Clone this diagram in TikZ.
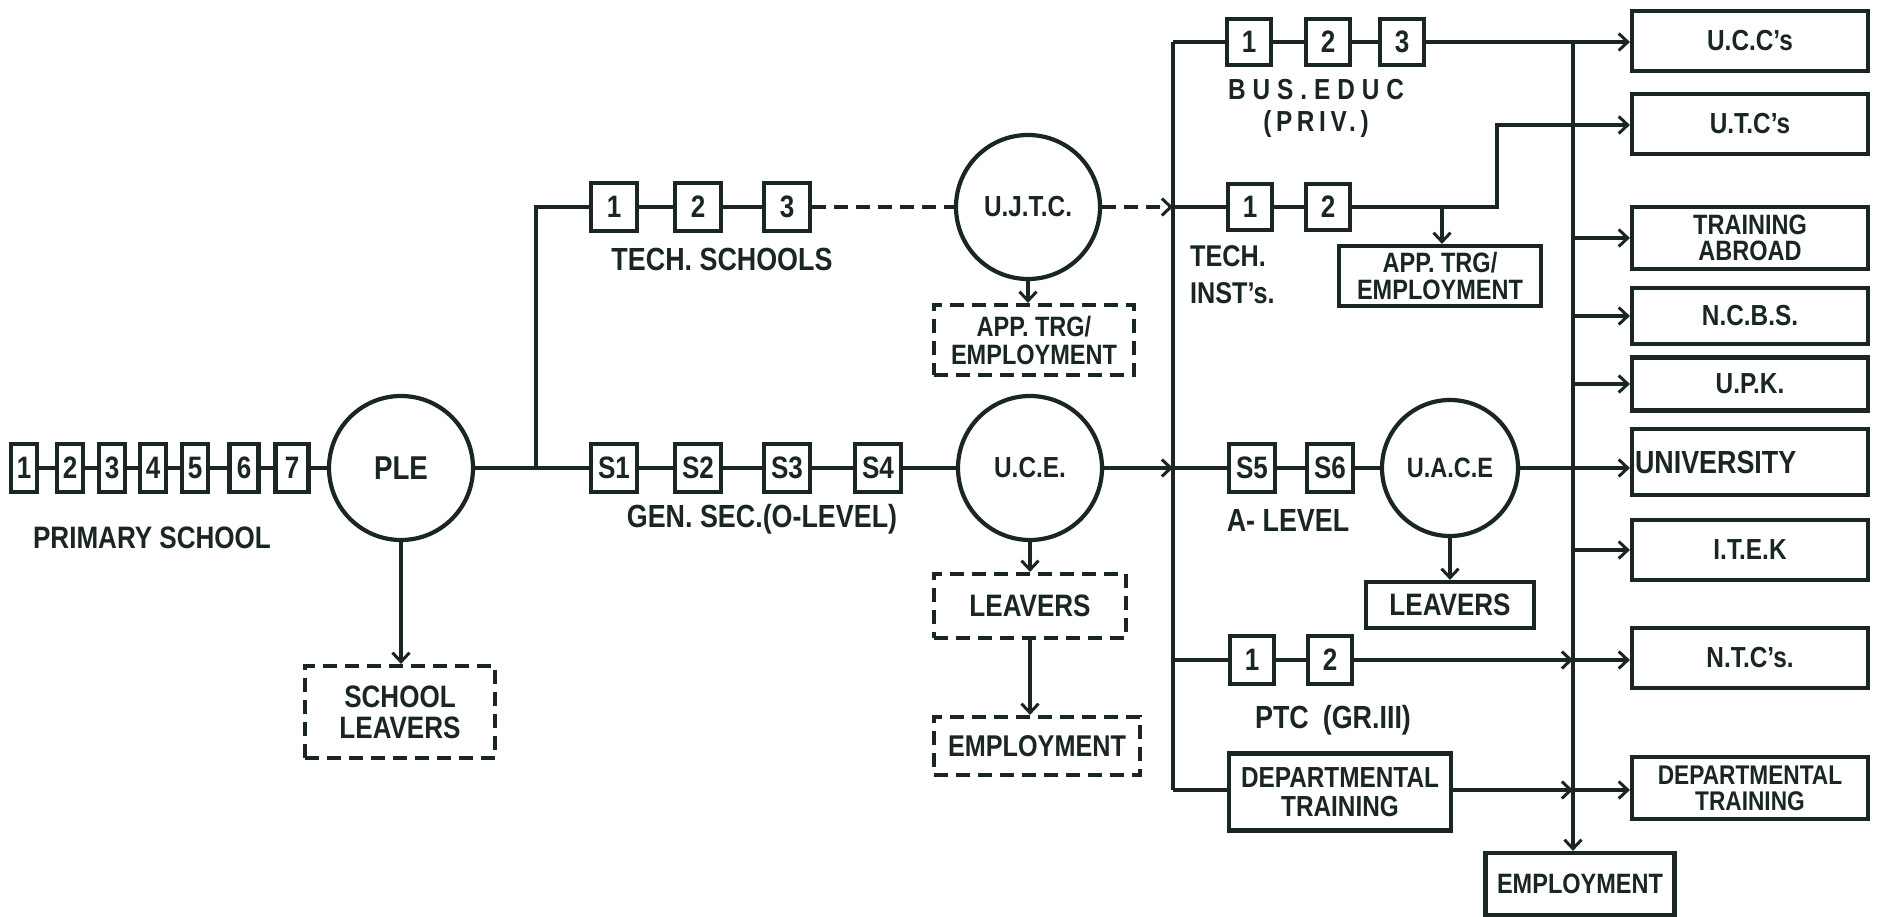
\documentclass[tikz,border=0pt]{standalone}
\usepackage{fontspec}
\setmainfont{Liberation Sans}[FakeStretch=0.84]
\usetikzlibrary{arrows.meta}
\definecolor{ink}{RGB}{26,38,32}
\newcommand\fz[2]{\fontsize{#1}{#2}\selectfont\bfseries}
\begin{document}
\begin{tikzpicture}[x=1pt,y=-1pt,
  every node/.style={text=ink},
  ln/.style={draw=ink,line width=4.2pt},
  arr/.style={ln,-{Straight Barb[length=9pt,width=17pt,line width=3pt]}},
  dsh/.style={ln,dash pattern=on 14pt off 8pt},
  pb/.style={ln,minimum width=26pt,minimum height=48pt,inner sep=0pt,font=\fz{31}{31}},
  yb/.style={ln,minimum width=46pt,minimum height=48pt,inner sep=0pt,font=\fz{31}{31}},
  sb/.style={ln,minimum width=44pt,minimum height=46pt,inner sep=0pt,font=\fz{31}{31}},
  circ/.style={ln,circle,minimum size=144pt,inner sep=0pt,font=\fz{30}{30}},
  rbox/.style={ln,minimum width=236pt,minimum height=60pt,inner sep=0pt,align=center,font=\fz{29}{29}},
  dbox/.style={dsh,inner sep=0pt,align=center,font=\fz{31}{31}},
  sbox/.style={ln,inner sep=0pt,align=center,font=\fz{28}{28}},
  lbl/.style={font=\fz{32}{32},inner sep=0pt,align=center},
]
\useasboundingbox[fill=white] (0,0) rectangle (1883,917);

% ---- primary school
\node[pb] (p1) at (24,468) {1};
\node[pb] (p2) at (70,468) {2};
\node[pb] (p3) at (112,468) {3};
\node[pb] (p4) at (153,468) {4};
\node[pb] (p5) at (195,468) {5};
\node[pb,minimum width=29pt] (p6) at (244,468) {6};
\node[pb,minimum width=33pt] (p7) at (292,468) {7};
\draw[ln] (p1)--(p2); \draw[ln] (p2)--(p3); \draw[ln] (p3)--(p4);
\draw[ln] (p4)--(p5); \draw[ln] (p5)--(p6); \draw[ln] (p6)--(p7);
\node[lbl,font=\fz{31}{31}] (ps) at (152,538) {PRIMARY SCHOOL};
\node[circ,font=\fz{33}{33}] (ple) at (401,468) {PLE};
\draw[ln] (p7)--(ple);
\node[dbox,minimum width=190pt,minimum height=92pt] (sl) at (400,712) {SCHOOL\\LEAVERS};
\draw[arr] (ple.south)--(ple.south |- sl.north);

% ---- technical schools
\coordinate (j1) at (536,468);
\node[yb] (t1) at (614,207) {1};
\node[yb] (t2) at (698,207) {2};
\node[yb] (t3) at (787,207) {3};
\draw[ln] (j1) |- (t1);
\draw[ln] (t1)--(t2); \draw[ln] (t2)--(t3);
\node[lbl] (tsl) at (722,259) {TECH. SCHOOLS};
\node[circ,font=\fz{29}{29}] (ujtc) at (1028,207) {U.J.T.C.};
\draw[dsh] (t3)--(ujtc);
\node[dbox,minimum width=200pt,minimum height=70pt,font=\fz{28}{28}] (app1) at (1034,340) {APP. TRG/\\EMPLOYMENT};
\draw[arr] (ujtc.south)--(ujtc.south |- app1.north);

% ---- general secondary
\node[yb] (s1) at (614,468) {S1};
\node[yb] (s2) at (698,468) {S2};
\node[yb] (s3) at (787,468) {S3};
\node[yb] (s4) at (878,468) {S4};
\draw[ln] (ple)--(j1)--(s1);
\draw[ln] (s1)--(s2); \draw[ln] (s2)--(s3); \draw[ln] (s3)--(s4);
\node[lbl] (gsl) at (762,519) {GEN. SEC.(O-LEVEL)};
\node[circ,font=\fz{29}{29}] (uce) at (1030,468) {U.C.E.};
\draw[ln] (s4)--(uce);
\node[dbox,minimum width=192pt,minimum height=64pt] (lv1) at (1030,606) {LEAVERS};
\node[dbox,minimum width=206pt,minimum height=58pt,font=\fz{30}{30}] (em1) at (1037,746) {EMPLOYMENT};
\draw[arr] (uce.south)--(uce.south |- lv1.north);
\draw[arr] (lv1.south)--(lv1.south |- em1.north);

% ---- left bus
\coordinate (lbt) at (1173,42);
\coordinate (lb2) at (1173,207);
\coordinate (lb3) at (1173,468);
\coordinate (lb4) at (1173,660);
\coordinate (lbb) at (1173,790);
\draw[ln] (lbt)--(lbb);
\draw[dsh,-{Straight Barb[length=9pt,width=17pt,line width=3pt]}] (ujtc)--(lb2);
\draw[arr] (uce)--(lb3);

% ---- right bus
\coordinate (rbt) at (1573,42);
\coordinate (rb4) at (1573,660);
\coordinate (rb5) at (1573,790);
\draw[ln] (rbt)--(rb5);

% ---- right column
\node[rbox] (ucc) at (1750,41) {U.C.C's};
\node[rbox] (utc) at (1750,124) {U.T.C's};
\node[rbox,minimum height=62pt,font=\fz{28}{26}] (tab) at (1750,238) {TRAINING\\ABROAD};
\node[rbox,minimum height=56pt] (ncbs) at (1750,316) {N.C.B.S.};
\node[rbox,minimum height=53pt] (upk) at (1750,384) {U.P.K.};
\node[rbox,minimum height=66pt,text width=230pt,align=left,font=\fz{32}{32}] (univ) at (1750,462) {UNIVERSITY};
\node[rbox] (itek) at (1750,550) {I.T.E.K};
\node[rbox] (ntc) at (1750,658) {N.T.C's.};
\node[rbox,minimum height=62pt,font=\fz{27}{26}] (dt2) at (1750,788) {DEPARTMENTAL\\TRAINING};

% ---- business education
\node[sb] (b1) at (1249,42) {1};
\node[sb] (b2) at (1328,42) {2};
\node[sb] (b3) at (1402,42) {3};
\draw[ln] (lbt)--(b1); \draw[ln] (b1)--(b2); \draw[ln] (b2)--(b3);
\draw[arr] (b3.east)--(b3.east -| ucc.west);
\node[lbl,font=\fz{29}{29}\addfontfeature{LetterSpace=24}] (bel) at (1316,90) {BUS.EDUC};
\node[lbl,font=\fz{29}{29}\addfontfeature{LetterSpace=16}] (bpl) at (1316,124) {(PRIV.)};

% ---- technical institutes
\node[sb] (ti1) at (1250,207) {1};
\node[sb] (ti2) at (1328,207) {2};
\draw[ln] (lb2)--(ti1); \draw[ln] (ti1)--(ti2);
\coordinate (tk1) at (1497,207);
\coordinate (tk2) at (1497,125);
\draw[arr] (ti2)--(tk1)--(tk2)--(tk2 -| utc.west);
\node[lbl,anchor=west,font=\fz{30}{30}] (til1) at (1190,256) {TECH.};
\node[lbl,anchor=west,font=\fz{30}{30}] (til2) at (1190,293) {INST's.};
\node[sbox,minimum width=202pt,minimum height=60pt,font=\fz{28}{27}] (app2) at (1440,276) {APP. TRG/\\EMPLOYMENT};
\coordinate (ta) at (1442,207);
\draw[arr] (ta)--(ta |- app2.north);

% ---- A level
\node[yb] (s5) at (1252,468) {S5};
\node[yb] (s6) at (1330,468) {S6};
\node[circ,minimum size=136pt,font=\fz{28}{28}] (uace) at (1450,468) {U.A.C.E};
\draw[ln] (lb3)--(s5); \draw[ln] (s5)--(s6); \draw[ln] (s6)--(uace);
\draw[arr] (uace.east)--(uace.east -| univ.west);
\node[lbl] (all) at (1288,520) {A- LEVEL};
\node[sbox,minimum width=168pt,minimum height=46pt,font=\fz{31}{31}] (lv2) at (1450,605) {LEAVERS};
\draw[arr] (uace.south)--(uace.south |- lv2.north);

% ---- PTC
\node[sb,minimum height=48pt] (c1) at (1252,660) {1};
\node[sb,minimum height=48pt] (c2) at (1330,660) {2};
\draw[ln] (lb4)--(c1); \draw[ln] (c1)--(c2);
\draw[arr] (c2)--(rb4);
\draw[arr] (rb4)--(rb4 -| ntc.west);
\node[lbl] (ptl) at (1333,720) {PTC\hspace{14pt}(GR.III)};

% ---- departmental training
\node[sbox,minimum width=222pt,minimum height=77pt,font=\fz{29}{29}] (dt1) at (1340,792) {DEPARTMENTAL\\TRAINING};
\draw[ln] (lbb)--(lbb -| dt1.west);
\draw[arr] (rb5 -| dt1.east)--(rb5);
\draw[arr] (rb5)--(rb5 -| dt2.west);
\node[sbox,minimum width=189pt,minimum height=62pt,font=\fz{28}{28}] (emp) at (1580,884) {EMPLOYMENT};
\draw[arr] (rb5)--(rb5 |- emp.north);

% ---- right bus branches
\draw[arr] (rbt |- tab.west)--(tab.west);
\draw[arr] (rbt |- ncbs.west)--(ncbs.west);
\draw[arr] (rbt |- upk.west)--(upk.west);
\draw[arr] (rbt |- itek.west)--(itek.west);
\end{tikzpicture}
\end{document}
